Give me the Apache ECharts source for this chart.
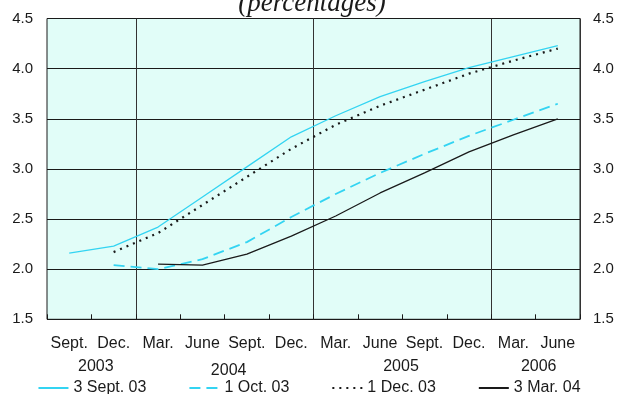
<!DOCTYPE html>
<html>
<head>
<meta charset="utf-8">
<script src="https://cdn.jsdelivr.net/npm/echarts@6/dist/echarts.min.js"></script>
<style>
  html, body { margin: 0; padding: 0; background: #fff; }
  #chart { width: 618px; height: 394px; }
</style>
</head>
<body>
<div id="chart"></div>
<script>
// quarter labels along the x axis
const quarters = ['Sept.', 'Dec.', 'Mar.', 'June', 'Sept.', 'Dec.', 'Mar.', 'June', 'Sept.', 'Dec.', 'Mar.', 'June']
const years = ['2003', '2004', '2005', '2006']

// forward curves, percentages (null = not yet quoted)
const sept03 = [2.16, 2.23, 2.42, 2.72, 3.02, 3.32, 3.53, 3.72, 3.87, 4.01, 4.12, 4.23]
const oct03 = [null, 2.04, 2.00, 2.10, 2.27, 2.52, 2.75, 2.96, 3.15, 3.33, 3.49, 3.65]
const dec03 = [null, 2.17, 2.36, 2.64, 2.92, 3.20, 3.44, 3.63, 3.79, 3.95, 4.08, 4.20]
const mar04 = [null, null, 2.05, 2.04, 2.15, 2.33, 2.53, 2.76, 2.96, 3.17, 3.34, 3.50]

const seriesNames = ['3 Sept. 03', '1 Oct. 03', '1 Dec. 03', '3 Mar. 04']

// where the year labels sit, in category units and pixel rows
const yearPos = [0.6, 3.59, 7.47, 10.57]
const yearRow = [367, 371, 367, 367]

const CYAN = '#33d4f2'
const INK = '#1a1a1a'
const FONT = 'Liberation Sans, Arial, sans-serif'

const chart = echarts.init(document.getElementById('chart'))

const yAxisBase = {
  type: 'value',
  min: 1.5,
  max: 4.5,
  interval: 0.5,
  axisLine: { show: false },
  axisTick: { show: false },
  axisLabel: {
    color: INK,
    fontSize: 15,
    fontFamily: FONT,
    formatter: v => v.toFixed(1)
  }
}

const option = {
  animation: false,
  grid: {
    left: 47,
    right: 38,
    top: 18.5,
    bottom: 74.7,
    containLabel: false,
    show: true,
    backgroundColor: '#e1fdf8',
    borderColor: INK,
    borderWidth: 1
  },
  legend: {
    top: 380,
    left: 'center',
    padding: 0,
    itemWidth: 30,
    itemHeight: 16,
    itemGap: 42,
    itemStyle: { opacity: 0 },
    textStyle: { color: INK, fontSize: 16, fontFamily: FONT },
    data: seriesNames
  },
  xAxis: {
    type: 'category',
    data: quarters,
    boundaryGap: true,
    axisLine: { show: false },
    axisTick: {
      show: true,
      inside: true,
      length: 5,
      interval: 0,
      lineStyle: { color: INK }
    },
    axisLabel: {
      interval: 0,
      margin: 16,
      color: INK,
      fontSize: 16,
      fontFamily: FONT
    },
    splitLine: {
      show: true,
      interval: (i) => i === 2 || i === 6 || i === 10,
      lineStyle: { color: '#333', width: 1 }
    }
  },
  yAxis: [
    Object.assign({}, yAxisBase, {
      position: 'left',
      axisLabel: Object.assign({}, yAxisBase.axisLabel, { margin: 14 }),
      splitLine: { show: true, lineStyle: { color: INK, width: 1 } }
    }),
    Object.assign({}, yAxisBase, {
      position: 'right',
      axisLabel: Object.assign({}, yAxisBase.axisLabel, { margin: 13 }),
      splitLine: { show: false }
    })
  ],
  series: [
    {
      name: seriesNames[0],
      type: 'line',
      data: sept03,
      symbol: 'none',
      lineStyle: { color: CYAN, width: 1.3 },
      itemStyle: { color: CYAN }
    },
    {
      name: seriesNames[1],
      type: 'line',
      data: oct03,
      symbol: 'none',
      lineStyle: { color: CYAN, width: 1.8, type: [11, 6] },
      itemStyle: { color: CYAN }
    },
    {
      name: seriesNames[2],
      type: 'line',
      data: dec03,
      symbol: 'none',
      lineStyle: { color: INK, width: 2.2, type: [2, 5] },
      itemStyle: { color: INK }
    },
    {
      name: seriesNames[3],
      type: 'line',
      data: mar04,
      symbol: 'none',
      lineStyle: { color: INK, width: 1.3 },
      itemStyle: { color: INK }
    }
  ]
}

chart.setOption(option)

// year labels under the quarter labels, placed via the category scale
const x0 = chart.convertToPixel({ xAxisIndex: 0 }, 0)
const x1 = chart.convertToPixel({ xAxisIndex: 0 }, 1)
const step = x1 - x0

const graphics = years.map((y, i) => ({
  type: 'text',
  x: x0 + yearPos[i] * step,
  y: yearRow[i],
  style: {
    text: y,
    fill: INK,
    font: '16px ' + FONT,
    align: 'center',
    verticalAlign: 'middle'
  }
}))

graphics.push({
  type: 'text',
  x: 312,
  y: 4,
  style: {
    text: '(percentages)',
    fill: INK,
    font: 'italic 27px "Liberation Serif", "DejaVu Serif", serif',
    align: 'center',
    verticalAlign: 'middle'
  }
})

chart.setOption({ graphic: graphics })
</script>
</body>
</html>
